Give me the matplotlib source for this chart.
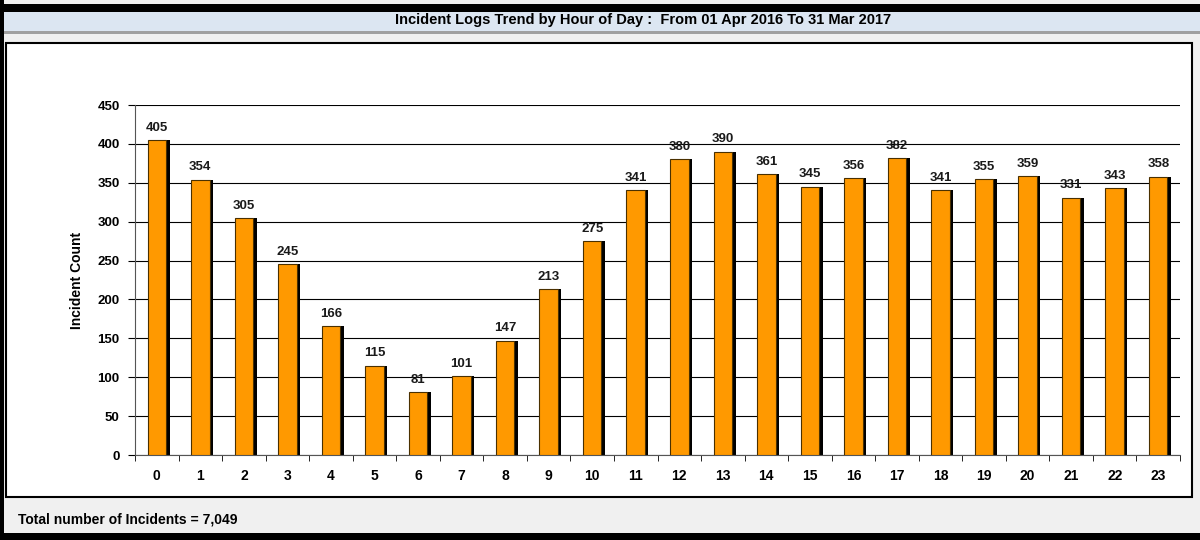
from matplotlib import pyplot as plt
from matplotlib.patches import Rectangle
import matplotlib

matplotlib.rc("font", family=["Liberation Sans", "DejaVu Sans"], size=9)

# 数据
hours = [str(h) for h in range(24)]
counts = [405, 354, 305, 245, 166, 115, 81, 101, 147, 213, 275, 341,
          380, 390, 361, 345, 356, 382, 341, 355, 359, 331, 343, 358]
title = "Incident Logs Trend by Hour of Day :  From 01 Apr 2016 To 31 Mar 2017"
footer = "Total number of Incidents = 7,049"

W, H = 1200, 540
fig = plt.figure(figsize=(12, 5.4), dpi=100)


def box(x0, y0, x1, y1, **kw):
    # 像素坐标（左上为原点）-> figure 坐标
    fig.patches.append(Rectangle((x0 / W, 1 - y1 / H), (x1 - x0) / W, (y1 - y0) / H,
                                 transform=fig.transFigure, zorder=-5, **kw))


# 外框与背景
box(0, 0, W, H, facecolor="#f0f0f0", edgecolor="none")
box(0, 4, W, 12, facecolor="black", edgecolor="none")
box(0, 533, W, H, facecolor="black", edgecolor="none")
box(0, 0, 4, H, facecolor="black", edgecolor="none")
box(4, 12, W, 31, facecolor="#dce6f2", edgecolor="none")
box(4, 31, W, 34, facecolor="#a0a0a0", edgecolor="none")
box(6, 43, 1192, 497, facecolor="white", edgecolor="black", linewidth=1.5)

fig.text(0.536, 1 - 20 / H, title, ha="center", va="center", fontsize=10.5,
         fontweight="bold")
fig.text(18 / W, 1 - 519 / H, footer, ha="left", va="center",
         fontsize=10, fontweight="bold")

ax = fig.add_axes([135 / W, 1 - 455 / H, (1180 - 135) / W, (455 - 105) / H])
ax.set_facecolor("none")
ax.set_zorder(2)

x = list(range(len(hours)))
# 阴影
ax.bar([i + 0.08 for i in x], counts, width=0.425, color="black", zorder=2)
bars = ax.bar(x, counts, width=0.425, color="#ff9900", edgecolor="#4a3000",
              linewidth=0.8, zorder=3)
for i, v in enumerate(counts):
    ax.text(i, v + 8, str(v), ha="center", va="bottom", fontsize=9.5,
            fontweight="bold", color="#1a1a1a", zorder=4)

ax.set_xlim(-0.5, len(hours) - 0.5)
ax.set_ylim(0, 450)
ax.set_yticks(range(0, 451, 50))
ax.set_xticks(x)
ax.set_xticklabels(hours, fontsize=10, fontweight="bold")
ax.set_xticks([i - 0.5 for i in range(len(hours) + 1)], minor=True)
ax.tick_params(axis="x", which="major", length=0, pad=10)
ax.tick_params(axis="x", which="minor", length=4, direction="out")
ax.tick_params(axis="y", length=5, labelsize=9.5, pad=6)
for lab in ax.get_yticklabels():
    lab.set_fontweight("bold")

ax.set_ylabel("Incident Count", fontsize=10, fontweight="bold", labelpad=10)

ax.grid(axis="y", color="black", linewidth=0.8, zorder=0)
ax.set_axisbelow(True)
ax.spines["top"].set_visible(False)
ax.spines["right"].set_visible(False)
ax.spines["left"].set_color("#555555")
ax.spines["bottom"].set_color("#555555")

plt.savefig("out.png", dpi=100)
